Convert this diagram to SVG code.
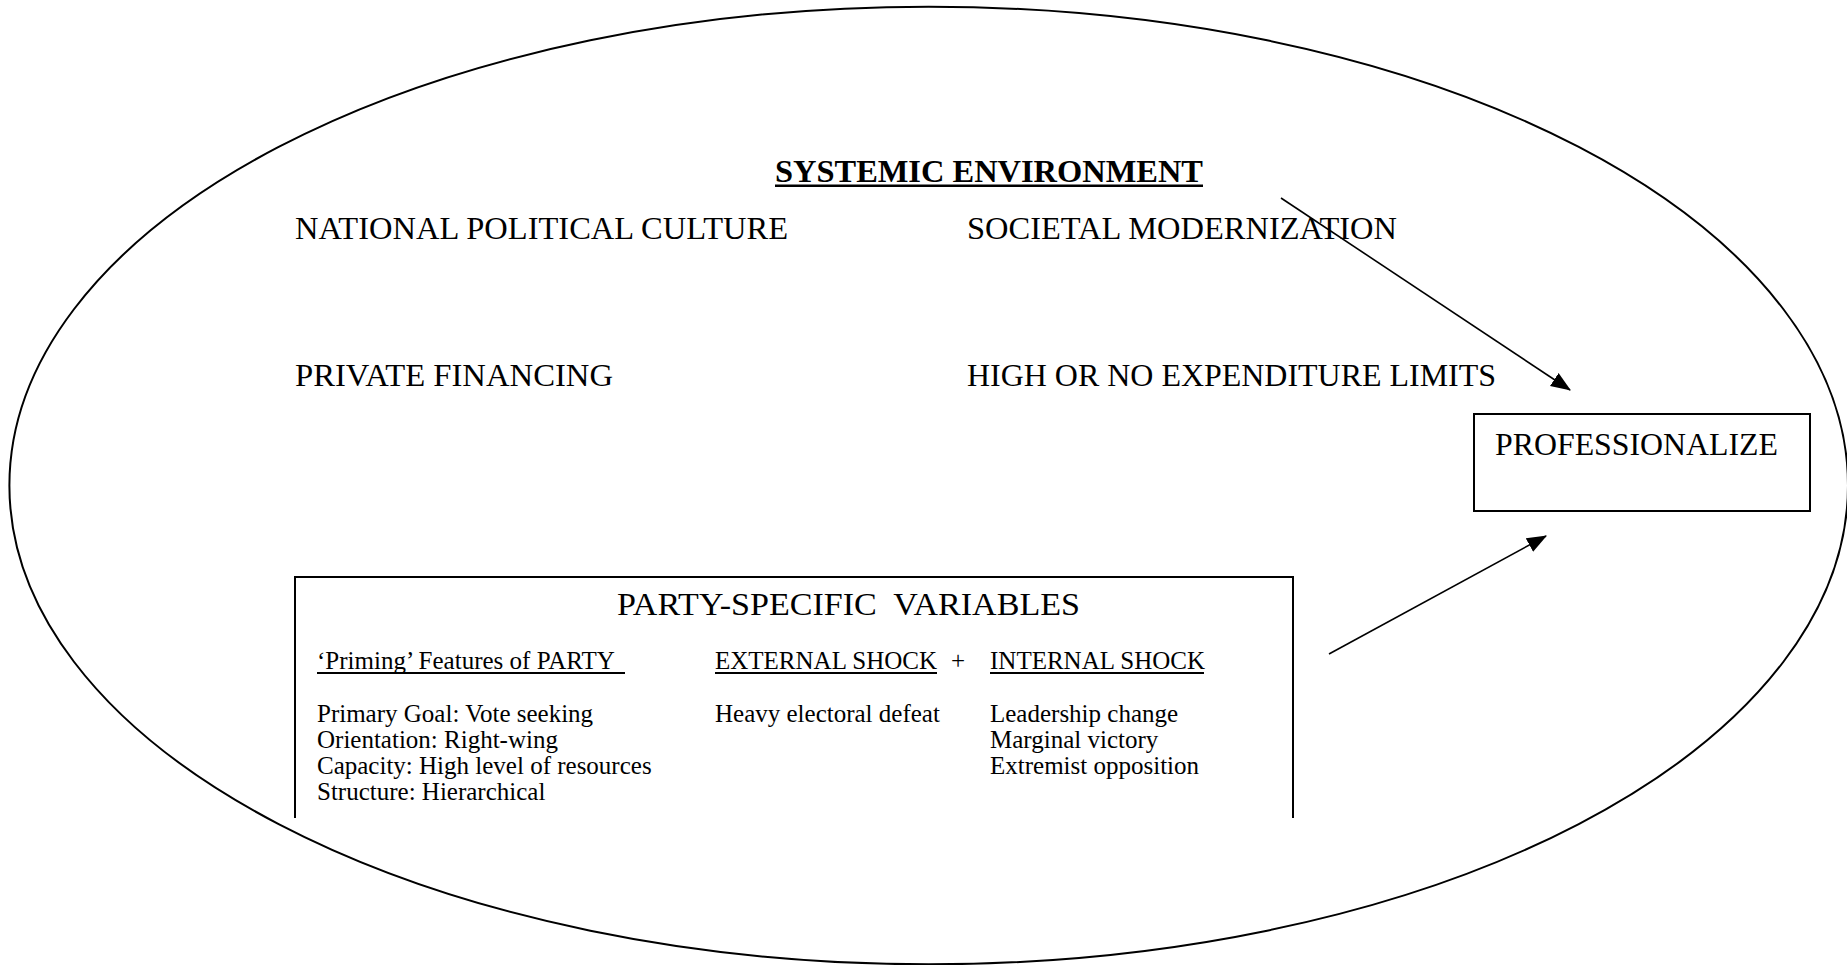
<svg xmlns="http://www.w3.org/2000/svg" width="1847" height="965" viewBox="0 0 1847 965">
  <style>
    text { font-family: "Liberation Serif", "Times New Roman", serif; fill: #000; white-space: pre; }
    .big { font-size: 32px; }
    .head { font-size: 32.5px; font-weight: bold; }
    .small { font-size: 25px; }
    .ul { fill: #000; }
    .frame { fill: none; stroke: #000; stroke-width: 2; }
    .conn { fill: none; stroke: #000; stroke-width: 1.6; }
  </style>
  <defs>
    <marker id="arrowhead" markerUnits="userSpaceOnUse" markerWidth="20" markerHeight="16" viewBox="0 0 18 14" refX="17" refY="7" orient="auto">
      <path d="M0,0 L18,7 L0,14 Z" fill="#000"/>
    </marker>
  </defs>

  <rect width="1847" height="965" fill="#fff"/>

  <!-- outer environment ellipse -->
  <g id="environment">
    <ellipse cx="928.7" cy="485.5" rx="919.3" ry="478.8" class="frame"/>
    <text class="head" x="775" y="182" textLength="428" lengthAdjust="spacingAndGlyphs">SYSTEMIC ENVIRONMENT</text>
    <rect class="ul" x="775" y="184.5" width="428" height="2.5"/>
  </g>

  <g id="national-political-culture">
    <text class="big" x="295" y="239" textLength="493" lengthAdjust="spacingAndGlyphs">NATIONAL POLITICAL CULTURE</text>
  </g>
  <g id="societal-modernization">
    <text class="big" x="967" y="239" textLength="430" lengthAdjust="spacingAndGlyphs">SOCIETAL MODERNIZATION</text>
  </g>
  <g id="private-financing">
    <text class="big" x="295" y="386" textLength="318" lengthAdjust="spacingAndGlyphs">PRIVATE FINANCING</text>
  </g>
  <g id="expenditure-limits">
    <text class="big" x="967" y="386" textLength="529" lengthAdjust="spacingAndGlyphs">HIGH OR NO EXPENDITURE LIMITS</text>
  </g>

  <!-- outcome box -->
  <g id="professionalize">
    <rect x="1474" y="414" width="336" height="97" class="frame"/>
    <text x="1495" y="455" style="font-size:31px" textLength="283" lengthAdjust="spacingAndGlyphs">PROFESSIONALIZE</text>
  </g>

  <!-- party-specific panel, open at the bottom -->
  <g id="party-specific">
    <path d="M295,818 V577 H1293 V818" class="frame"/>
    <text x="617" y="615" style="font-size:31px" textLength="463" lengthAdjust="spacingAndGlyphs">PARTY-SPECIFIC  VARIABLES</text>

    <text class="small" x="317" y="669">‘Priming’ Features of PARTY </text>
    <rect class="ul" x="317" y="672" width="308" height="2"/>
    <text class="small" x="317" y="722">Primary Goal: Vote seeking</text>
    <text class="small" x="317" y="748">Orientation: Right-wing</text>
    <text class="small" x="317" y="774">Capacity: High level of resources</text>
    <text class="small" x="317" y="800">Structure: Hierarchical</text>

    <text class="small" x="715" y="669">EXTERNAL SHOCK</text>
    <rect class="ul" x="715" y="672" width="222" height="2"/>
    <text class="small" x="951" y="669">+</text>
    <text class="small" x="715" y="722">Heavy electoral defeat</text>

    <text class="small" x="990" y="669">INTERNAL SHOCK</text>
    <rect class="ul" x="990" y="672" width="214" height="2"/>
    <text class="small" x="990" y="722">Leadership change</text>
    <text class="small" x="990" y="748">Marginal victory</text>
    <text class="small" x="990" y="774">Extremist opposition</text>
  </g>

  <!-- connectors -->
  <g id="connectors">
    <line x1="1281" y1="198" x2="1570" y2="390" class="conn" marker-end="url(#arrowhead)"/>
    <line x1="1329" y1="654" x2="1546" y2="536" class="conn" marker-end="url(#arrowhead)"/>
  </g>
</svg>
